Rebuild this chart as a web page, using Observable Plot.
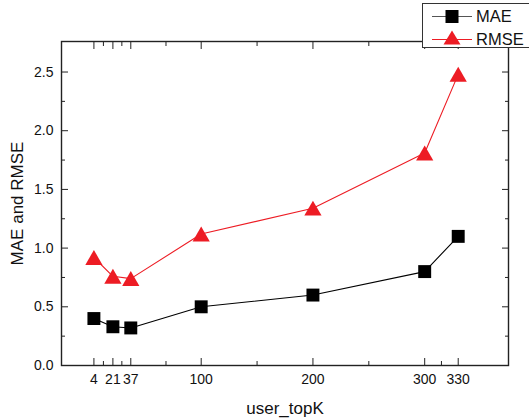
<!DOCTYPE html>
<html>
<head>
<meta charset="utf-8">
<script src="https://cdn.jsdelivr.net/npm/d3@7"></script>
<script src="https://cdn.jsdelivr.net/npm/@observablehq/plot@0.6"></script>
<style>
  html, body { margin: 0; padding: 0; background: #fff; overflow: hidden; }
  #wrap { position: relative; width: 529px; height: 420px; font-family: "Liberation Sans", Arial, sans-serif; }
  #chart { position: absolute; left: 0; top: 0; }
  #legend {
    position: absolute; left: 422px; top: 3px; width: 130px; height: 45px;
    background: #fff; border: 1px solid #333; box-sizing: border-box;
  }
  #legend svg { display: block; }
</style>
</head>
<body>
<div id="wrap">
  <div id="chart"></div>
  <div id="legend"></div>
</div>
<script>
// user_topK settings and the two error measures
const topK = [4, 21, 37, 100, 200, 300, 330];
const mae  = [0.40, 0.33, 0.32, 0.50, 0.60, 0.80, 1.10];
const rmse = [0.92, 0.76, 0.74, 1.12, 1.34, 1.81, 2.48];

// tick positions
const xMajor = [4, 21, 37, 100, 200, 300, 330];
const xMinor = [12.5, 29, 68.5, 150, 250, 315];
const yMajor = [0, 0.5, 1.0, 1.5, 2.0, 2.5];
const yMinor = [0.25, 0.75, 1.25, 1.75, 2.25];

const seriesNames = ["MAE", "RMSE"];
const colors = {MAE: "#000000", RMSE: "#ed1c24"};

const rows = [
  ...topK.map((k, i) => ({k, v: mae[i], s: "MAE"})),
  ...topK.map((k, i) => ({k, v: rmse[i], s: "RMSE"}))
];

const axisColor = "#222";
const chart = Plot.plot({
  width: 529,
  height: 420,
  marginLeft: 61,
  marginRight: 21,
  marginTop: 41,
  marginBottom: 55,
  style: {fontFamily: "'Liberation Sans', Arial, sans-serif", fontSize: "17px", background: "#fff", color: "#111"},
  x: {domain: [-25, 375]},
  y: {domain: [0, 2.76]},
  marks: [
    // tick labels
    Plot.axisX(xMajor, {anchor: "bottom", tickSize: 0, tickPadding: 9, fontSize: 14,
      tickFormat: d => String(d), label: null}),
    Plot.axisY(yMajor, {anchor: "left", tickSize: 0, tickPadding: 8, fontSize: 14,
      tickFormat: d3.format(".1f"), label: null}),
    // axis titles
    Plot.axisX([], {anchor: "bottom", tickSize: 0, label: "user_topK", labelAnchor: "center",
      labelOffset: 48, labelArrow: "none"}),
    Plot.axisY([], {anchor: "left", tickSize: 0, label: "MAE and RMSE", labelAnchor: "center",
      labelOffset: 51, labelArrow: "none", dx: -9}),
    // inward ticks on all four sides
    Plot.axisX(xMajor, {anchor: "bottom", tickSize: -7, text: null, label: null, stroke: axisColor}),
    Plot.axisX(xMinor, {anchor: "bottom", tickSize: -4, text: null, label: null, stroke: axisColor}),
    Plot.axisX(xMajor, {anchor: "top", tickSize: -7, text: null, label: null, stroke: axisColor}),
    Plot.axisX(xMinor, {anchor: "top", tickSize: -4, text: null, label: null, stroke: axisColor}),
    Plot.axisY(yMajor, {anchor: "left", tickSize: -7, text: null, label: null, stroke: axisColor}),
    Plot.axisY(yMinor, {anchor: "left", tickSize: -4, text: null, label: null, stroke: axisColor}),
    Plot.axisY(yMajor, {anchor: "right", tickSize: -7, text: null, label: null, stroke: axisColor}),
    Plot.axisY(yMinor, {anchor: "right", tickSize: -4, text: null, label: null, stroke: axisColor}),
    Plot.frame({stroke: axisColor, strokeWidth: 1.4}),
    // series
    Plot.line(rows, {x: "k", y: "v", z: "s", stroke: d => colors[d.s], strokeWidth: 1.1}),
    Plot.dot(rows.filter(d => d.s === "MAE"), {x: "k", y: "v", symbol: "square", r: 7.3, fill: colors.MAE, stroke: null}),
    Plot.dot(rows.filter(d => d.s === "RMSE"), {x: "k", y: "v", symbol: "triangle", r: 6.4, dy: 2.4, fill: colors.RMSE, stroke: null})
  ]
});
document.getElementById("chart").appendChild(chart);

// legend: line + marker + name for each series
const legend = d3.select("#legend").append("svg").attr("width", 130).attr("height", 43);
seriesNames.forEach((name, i) => {
  const cy = 12.5 + i * 23;
  const g = legend.append("g");
  g.append("line").attr("x1", 9).attr("x2", 49).attr("y1", cy).attr("y2", cy)
    .attr("stroke", name === "MAE" ? "#555" : colors.RMSE).attr("stroke-width", 1.2);
  if (name === "MAE") {
    g.append("rect").attr("x", 29 - 6.5).attr("y", cy - 6.5).attr("width", 13).attr("height", 13).attr("fill", colors.MAE);
  } else {
    g.append("path").attr("d", `M29,${cy - 9}L37.5,${cy + 5}L20.5,${cy + 5}Z`).attr("fill", colors.RMSE);
  }
  g.append("text").attr("x", 53).attr("y", cy).attr("dy", "0.36em")
    .attr("font-size", 16.5).attr("font-family", "'Liberation Sans', Arial, sans-serif").attr("fill", "#111").text(name);
});
</script>
</body>
</html>
